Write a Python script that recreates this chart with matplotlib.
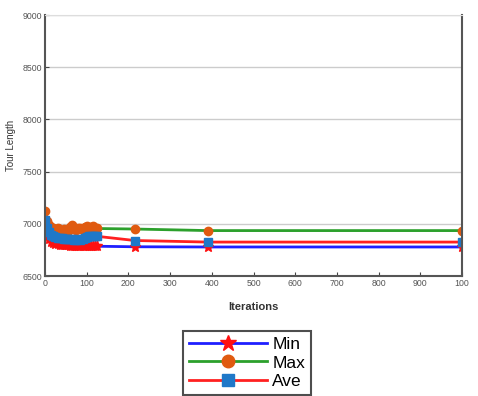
import matplotlib.pyplot as plt

iterations = [1, 5, 10, 15, 20, 25, 30, 35, 40, 45, 50, 55, 60, 65, 70, 75,
              80, 85, 90, 95, 100, 105, 110, 115, 120, 125, 215, 390, 1000]
tour_min = [7000, 6900, 6850, 6830, 6815, 6810, 6805, 6800, 6800, 6795, 6795,
            6795, 6790, 6790, 6790, 6790, 6790, 6788, 6788, 6788, 6787, 6787,
            6786, 6786, 6785, 6785, 6780, 6778, 6778]
tour_max = [7120, 7030, 6990, 6970, 6960, 6950, 6960, 6945, 6935, 6950, 6940,
            6930, 6970, 6990, 6950, 6940, 6960, 6955, 6940, 6970, 6975, 6960,
            6965, 6975, 6960, 6955, 6950, 6935, 6935]
tour_ave = [7040, 6960, 6920, 6890, 6880, 6870, 6865, 6860, 6860, 6855, 6855,
            6850, 6850, 6850, 6845, 6845, 6850, 6845, 6850, 6860, 6870, 6880,
            6885, 6885, 6885, 6880, 6840, 6825, 6825]
yticks = [6500, 7000, 7500, 8000, 8500, 9000]
xticks = [0, 100, 200, 300, 400, 500, 600, 700, 800, 900, 1000]
xticklabels = ["0", "100", "200", "300", "400", "500", "600", "700", "800",
               "900", "100"]

plt.rcParams["font.family"] = ["Liberation Sans", "DejaVu Sans"]

fig = plt.figure(figsize=(4.78, 3.96), dpi=100)
ax = fig.add_axes([45 / 478, 1 - 276 / 396, 417 / 478, 261 / 396])

ax.plot(iterations, tour_min, color="#1f1fff", lw=2, marker="*", ms=8,
        mfc="#ff1010", mec="#ff1010", label="Min")
ax.plot(iterations, tour_max, color="#2ca02c", lw=2, marker="o", ms=6,
        mfc="#e05a10", mec="#e05a10", label="Max")
ax.plot(iterations, tour_ave, color="#ff2020", lw=2, marker="s", ms=5.5,
        mfc="#1f78c8", mec="#1f78c8", label="Ave")

ax.set_xlim(0, 1000)
ax.set_ylim(6500, 9000)
ax.set_xticks(xticks)
ax.set_xticklabels(xticklabels)
ax.set_yticks(yticks)
ax.tick_params(direction="in", labelsize=6.3, labelcolor="#555555",
               color="#444444", length=3, pad=2)
ax.yaxis.grid(True, color="#cccccc", lw=1)
ax.set_axisbelow(True)
for side in ["left", "bottom", "right"]:
    ax.spines[side].set_color("#555555")
    ax.spines[side].set_linewidth(1.5)
ax.spines["top"].set_color("#dddddd")

ax.set_xlabel("Iterations", fontsize=8, color="#333333", fontweight="bold",
              labelpad=10)
ax.set_ylabel("Tour Length", fontsize=7, color="#333333", labelpad=5)

leg = fig.legend(loc="lower center", bbox_to_anchor=(0.517, -0.02),
                 fontsize=12.5, frameon=True, fancybox=False,
                 handlelength=4.5, borderpad=0.35, labelspacing=0.2,
                 handletextpad=0.3, markerscale=1.5)
leg.get_frame().set_edgecolor("#222222")
leg.get_frame().set_linewidth(1.5)

fig.savefig("out.png", dpi=100)
